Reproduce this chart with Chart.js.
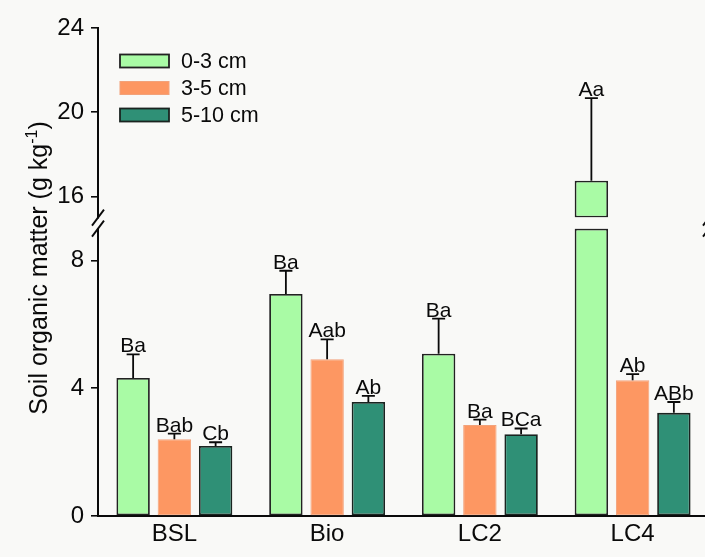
<!DOCTYPE html>
<html>
<head>
<meta charset="utf-8">
<script src="https://cdn.jsdelivr.net/npm/chart.js@4/dist/chart.umd.min.js"></script>
<style>
  html, body { margin: 0; padding: 0; background: #f9f9f7; overflow: hidden; }
  #wrap { width: 720px; height: 557px; }
</style>
</head>
<body>
<div id="wrap"><canvas id="chart" width="720" height="557"></canvas></div>
<script>
// Sites and soil depth layers
const CATEGORIES = ['BSL', 'Bio', 'LC2', 'LC4'];
const DEPTHS = ['0-3 cm', '3-5 cm', '5-10 cm'];

// Soil organic matter means (g kg-1)
const SOM_0_3 = [4.32, 6.95, 5.08, 16.75];
const SOM_3_5 = [2.40, 4.91, 2.85, 4.25];
const SOM_5_10 = [2.19, 3.57, 2.56, 3.23];

// Standard errors (upper whisker length)
const SE_0_3 = [0.74, 0.73, 1.10, 3.92];
const SE_3_5 = [0.18, 0.62, 0.17, 0.19];
const SE_5_10 = [0.12, 0.19, 0.18, 0.34];

// Significance letters
const LETTERS_0_3 = ['Ba', 'Ba', 'Ba', 'Aa'];
const LETTERS_3_5 = ['Bab', 'Aab', 'Ba', 'Ab'];
const LETTERS_5_10 = ['Cb', 'Ab', 'BCa', 'ABb'];

// Broken y axis: lower and upper segments
const LOW_RANGE = [0, 9];
const HIGH_RANGE = [15, 24];
const LOW_TICKS = [0, 4, 8];
const HIGH_TICKS = [16, 20, 24];

const FONT = '"Liberation Sans", Arial, sans-serif';
const INK = '#0a0a0a';
const FILLS = ['#a9fba5', '#fd9762', '#2f9076'];
const EDGES = ['#222222', '#f2a27a', '#1a2420'];
const EDGE_W = [1.8, 1, 1.8];

const series = [
  { name: DEPTHS[0], mean: SOM_0_3, err: SE_0_3, letters: LETTERS_0_3 },
  { name: DEPTHS[1], mean: SOM_3_5, err: SE_3_5, letters: LETTERS_3_5 },
  { name: DEPTHS[2], mean: SOM_5_10, err: SE_5_10, letters: LETTERS_5_10 }
];

// Each depth gets one dataset on the lower segment and one on the upper segment
const datasets = [];
series.forEach((s, i) => {
  const common = {
    label: s.name,
    stack: 'depth' + i,
    backgroundColor: FILLS[i],
    borderColor: EDGES[i],
    borderWidth: EDGE_W[i],
    borderSkipped: false,
    categoryPercentage: 0.81,
    barPercentage: 0.81
  };
  datasets.push(Object.assign({}, common, {
    yAxisID: 'yLow',
    data: s.mean.map(v => Math.min(v, LOW_RANGE[1]))
  }));
  datasets.push(Object.assign({}, common, {
    yAxisID: 'yHigh',
    data: s.mean.map(v => (v > HIGH_RANGE[0] ? [HIGH_RANGE[0], v] : null))
  }));
});

function yAxis(range, ticks, weightPx, order) {
  return {
    type: 'linear',
    position: 'left',
    stack: 'left',
    stackWeight: weightPx,
    weight: order,
    min: range[0],
    max: range[1],
    afterBuildTicks(scale) { scale.ticks = ticks.map(v => ({ value: v })); },
    afterFit(scale) { scale.width = 98; scale.paddingTop = 0; scale.paddingBottom = 0; },
    grid: { drawOnChartArea: false, drawTicks: true, tickLength: 7, color: INK, lineWidth: 1.6 },
    border: { display: true, color: INK, width: 2 },
    ticks: { color: INK, font: { family: FONT, size: 24 }, padding: 7 }
  };
}

const errorBars = {
  id: 'errorBars',
  afterDatasetsDraw(chart) {
    const ctx = chart.ctx;
    ctx.save();
    series.forEach((s, i) => {
      s.mean.forEach((m, j) => {
        const onHigh = m > HIGH_RANGE[0];
        const meta = chart.getDatasetMeta(2 * i + (onHigh ? 1 : 0));
        const scale = chart.scales[onHigh ? 'yHigh' : 'yLow'];
        const x = meta.data[j].x;
        const y0 = scale.getPixelForValue(m);
        const y1 = scale.getPixelForValue(m + s.err[j]);
        ctx.strokeStyle = INK;
        ctx.lineWidth = 1.8;
        ctx.beginPath();
        ctx.moveTo(x, y0);
        ctx.lineTo(x, y1);
        ctx.moveTo(x - 6.5, y1);
        ctx.lineTo(x + 6.5, y1);
        ctx.stroke();
        ctx.fillStyle = INK;
        ctx.font = '21px ' + FONT;
        ctx.textAlign = 'center';
        ctx.textBaseline = 'alphabetic';
        ctx.fillText(s.letters[j], x, y1 - 2);
      });
    });
    ctx.restore();
  }
};

const decorations = {
  id: 'decorations',
  afterDraw(chart) {
    const ctx = chart.ctx;
    const area = chart.chartArea;
    const hi = chart.scales.yHigh;
    const lo = chart.scales.yLow;
    ctx.save();

    // axis break marks
    ctx.strokeStyle = INK;
    ctx.lineWidth = 1.8;
    [area.left, area.right].forEach(x => {
      [hi.bottom, lo.top].forEach(y => {
        ctx.beginPath();
        ctx.moveTo(x - 6, y + 8);
        ctx.lineTo(x + 6, y - 8);
        ctx.stroke();
      });
    });

    // legend
    ctx.font = '21.5px ' + FONT;
    ctx.textAlign = 'left';
    ctx.textBaseline = 'middle';
    series.forEach((s, i) => {
      const cy = 61 + i * 27;
      ctx.fillStyle = FILLS[i];
      ctx.fillRect(120, cy - 6.5, 49, 13);
      ctx.strokeStyle = EDGES[i];
      ctx.lineWidth = EDGE_W[i];
      ctx.strokeRect(120, cy - 6.5, 49, 13);
      ctx.fillStyle = INK;
      ctx.fillText(s.name, 181, cy + 1);
    });

    // y-axis title with superscript
    ctx.translate(38, 268);
    ctx.rotate(-Math.PI / 2);
    ctx.fillStyle = INK;
    ctx.textBaseline = 'alphabetic';
    const main = 'Soil organic matter (g kg';
    const sup = '-1';
    const close = ')';
    ctx.font = '25px ' + FONT;
    const w1 = ctx.measureText(main).width;
    const w3 = ctx.measureText(close).width;
    ctx.font = '16px ' + FONT;
    const w2 = ctx.measureText(sup).width;
    let x = -(w1 + w2 + w3) / 2;
    const base = 9;
    ctx.font = '25px ' + FONT;
    ctx.fillText(main, x, base);
    x += w1;
    ctx.font = '16px ' + FONT;
    ctx.fillText(sup, x, base - 10);
    x += w2;
    ctx.font = '25px ' + FONT;
    ctx.fillText(close, x, base);
    ctx.restore();
  }
};

new Chart(document.getElementById('chart'), {
  type: 'bar',
  data: { labels: CATEGORIES, datasets },
  options: {
    responsive: false,
    animation: false,
    devicePixelRatio: 1,
    layout: { padding: { left: 0, top: 28, right: 11, bottom: 1 } },
    plugins: { legend: { display: false }, tooltip: { enabled: false } },
    scales: {
      x: {
        position: 'bottom',
        offset: true,
        grid: { display: false, drawTicks: false },
        border: { display: true, color: INK, width: 2 },
        ticks: { color: INK, font: { family: FONT, size: 24 }, padding: 4 },
        afterFit(scale) { scale.height = 40; scale.paddingLeft = 0; scale.paddingRight = 0; }
      },
      yHigh: yAxis(HIGH_RANGE, HIGH_TICKS, 190, 3),
      yGap: { type: 'linear', position: 'left', stack: 'left', stackWeight: 11, weight: 2, display: false },
      yLow: yAxis(LOW_RANGE, LOW_TICKS, 288, 1)
    }
  },
  plugins: [errorBars, decorations]
});
</script>
</body>
</html>
